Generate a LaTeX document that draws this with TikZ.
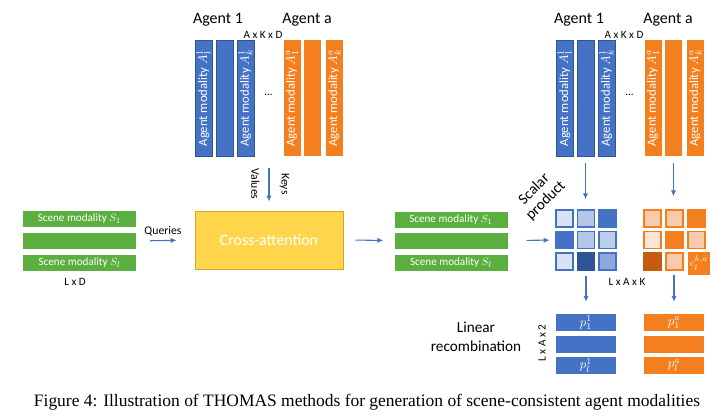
\documentclass[tikz,border=0pt]{standalone}
\usepackage{fontspec}
\setmainfont{Carlito}
\newfontfamily\capfont{Liberation Serif}
\usetikzlibrary{arrows.meta,positioning}
\definecolor{agblue}{HTML}{4472C4}
\definecolor{agbluedk}{HTML}{2F5597}
\definecolor{agbluemd}{HTML}{8EAADB}
\definecolor{agbluelt}{HTML}{B4C7E7}
\definecolor{agbluevl}{HTML}{DAE3F3}
\definecolor{agorange}{HTML}{F47F1E}
\definecolor{agorangedk}{HTML}{C55A11}
\definecolor{agorangelt}{HTML}{F8CBAD}
\definecolor{agorangevl}{HTML}{FBE5D6}
\definecolor{scgreen}{HTML}{5AAF3F}
\definecolor{attyellow}{HTML}{FFD54B}
\definecolor{attborder}{HTML}{D9A521}
\newcommand{\pxu}{0.03cm}

\tikzset{
  bar/.style={rectangle, inner sep=0pt, minimum width=17*\pxu, minimum height=116*\pxu},
  bluebar/.style={bar, fill=agblue, draw=agbluedk, line width=0.4pt},
  orangebar/.style={bar, fill=agorange},
  bartext/.style={rotate=90, text=white, inner sep=0pt, font=\fontsize{10.8}{12}\selectfont},
  scenebar/.style={rectangle, fill=scgreen, inner sep=0pt, minimum width=113*\pxu,
    minimum height=16*\pxu, text=white, font=\fontsize{9.5}{11}\selectfont},
  cell/.style={rectangle, inner sep=0pt, minimum size=17*\pxu, line width=1.2pt},
  pbar/.style={rectangle, inner sep=0pt, minimum width=60*\pxu, minimum height=17*\pxu,
    text=white, font=\fontsize{11}{12}\selectfont},
  lbl/.style={inner sep=0pt, font=\fontsize{9.5}{11}\selectfont},
  head/.style={inner sep=0pt, font=\fontsize{13.6}{15}\selectfont},
  flow/.style={draw=agblue, line width=0.9pt, -{Latex[length=5pt,width=4.5pt]}}
}

\begin{document}
\begin{tikzpicture}[x=\pxu, y=-\pxu]
  \useasboundingbox (0,0) rectangle (720,416);

  % Agent modalities (input and copy on the right)
  \foreach \g/\dx in {l/0, r/361}{
    \begin{scope}[xshift=\dx*\pxu]
    \node[head] (\g a1) at (218,20) {Agent 1};
    \node[head] (\g aa) at (307,20) {Agent a};
    \node[lbl] (\g dim) at (263,35) {A x K x D};
    \node[bluebar] (\g b1) at (203.5,98) {};
    \node[bluebar] (\g b2) at (224.5,98) {};
    \node[bluebar] (\g b3) at (245.5,98) {};
    \node[orangebar] (\g o1) at (292,98) {};
    \node[orangebar] (\g o2) at (312.5,98) {};
    \node[orangebar] (\g o3) at (334.5,98) {};
    \node[bartext] (\g b1t) at (\g b1) {Agent modality $A_1^1$};
    \node[bartext] (\g b3t) at (\g b3) {Agent modality $A_k^1$};
    \node[bartext] (\g o1t) at (\g o1) {Agent modality $A_1^a$};
    \node[bartext] (\g o3t) at (\g o3) {Agent modality $A_k^a$};
    \node[lbl] (\g dots) at (268.5,95) {...};
    \end{scope}
  }

  % Scene modalities
  \node[scenebar] (sl1) at (79.5,219) {Scene modality $S_1$};
  \node[scenebar] (sl2) at (79.5,241) {};
  \node[scenebar] (sl3) at (79.5,263) {Scene modality $S_l$};
  \node[lbl] (sldim) at (75,282) {L x D};

  % Cross-attention
  \node[rectangle, fill=attyellow, draw=attborder, line width=0.8pt, minimum width=148*\pxu,
    minimum height=58*\pxu, text=white, font=\fontsize{13.5}{15}\selectfont] (cross) at (269,240) {Cross-attention};
  \node[lbl, font=\fontsize{10}{12}\selectfont] (qry) at (163,231) {Queries};
  \draw[flow, shorten <=14*\pxu, shorten >=18*\pxu] (sl2.east) -- (cross.west);
  \coordinate (vk) at (269,168);
  \draw[flow, shorten >=9*\pxu] (vk) -- (vk |- cross.north);
  \node[lbl, rotate=-90, font=\fontsize{10}{12}\selectfont] (val) at (255.5,184) {Values};
  \node[lbl, rotate=-90, font=\fontsize{10}{12}\selectfont] (key) at (284.5,184) {Keys};

  % Updated scene modalities
  \node[scenebar] (sm1) at (451,219.5) {Scene modality $S_1$};
  \node[scenebar] (sm2) at (451,240.5) {};
  \node[scenebar] (sm3) at (451,262.5) {Scene modality $S_l$};
  \draw[flow, shorten <=12*\pxu, shorten >=11*\pxu] (cross.east) -- (sm2.west);
  \draw[flow, shorten <=19*\pxu, shorten >=15*\pxu] (sm2.east) -- (543+21.5,240);

  % Scalar product scores
  \foreach \r/\c/\fc/\dc in {1/1/agbluevl/agblue, 1/2/agbluelt/agblue, 1/3/agblue/agblue,
      2/1/agblue/agblue, 2/2/agbluelt/agblue, 2/3/agbluelt!80!agbluevl/agblue,
      3/1/agbluevl/agblue, 3/2/agbluedk/agbluedk, 3/3/agbluemd/agblue}
    \node[cell, fill=\fc, draw=\dc] (bc\r\c) at (543+21.5*\c, 197+21.5*\r) {};
  \foreach \r/\c/\fc/\dc in {1/1/agorangelt/agorange, 1/2/agorangelt/agorange, 1/3/agorange/agorange,
      2/1/agorangevl/agorange, 2/2/agorange/agorange, 2/3/agorangelt/agorange,
      3/1/agorangedk/agorangedk, 3/2/agorangelt/agorange}
    \node[cell, fill=\fc, draw=\dc] (oc\r\c) at (630.5+22*\c, 197+21.5*\r) {};
  \node[rectangle, fill=agorange, inner sep=0pt, minimum width=22*\pxu, minimum height=23*\pxu,
    text=white, font=\fontsize{9.5}{10}\selectfont] (oc33) at (699,263.5) {$c_l^{k,a}$};
  \node[lbl] (gdim) at (627,282) {L x A x K};
  \node[head, align=center, rotate=45, font=\fontsize{13}{14}\selectfont] (scal) at (540,195) {Scalar\\product};
  \draw[flow, shorten <=7*\pxu, shorten >=10*\pxu] (rb2.south) -- (rb2.south |- bc12.north);
  \draw[flow, shorten <=7*\pxu, shorten >=13*\pxu] (ro2.south) -- (ro2.south |- oc12.north);

  % Linear recombination
  \node[pbar, fill=agblue] (bp1) at (586,322.5) {$p_1^1$};
  \node[pbar, fill=agblue] (bp2) at (586,344) {};
  \node[pbar, fill=agblue] (bp3) at (586,365.5) {$p_l^1$};
  \node[pbar, fill=agorange] (op1) at (674,322.5) {$p_1^a$};
  \node[pbar, fill=agorange] (op2) at (674,344) {};
  \node[pbar, fill=agorange] (op3) at (674,365.5) {$p_l^a$};
  \draw[flow, shorten <=5*\pxu, shorten >=12*\pxu] (bc32.south) -- (bc32.south |- bp1.north);
  \draw[flow, shorten <=5*\pxu, shorten >=12*\pxu] (674,270) -- (op1.north);
  \node[head, align=center, font=\fontsize{13}{16}\selectfont] (lin) at (476,337) {Linear\\recombination};
  \node[lbl, rotate=90] (pdim) at (542,343) {L x A x 2};

  % Caption
  \node[inner sep=0pt, font=\capfont\fontsize{14.9}{16}\selectfont] (cap) at (367,402)
    {Figure 4: Illustration of THOMAS methods for generation of scene-consistent agent modalities};
\end{tikzpicture}
\end{document}
